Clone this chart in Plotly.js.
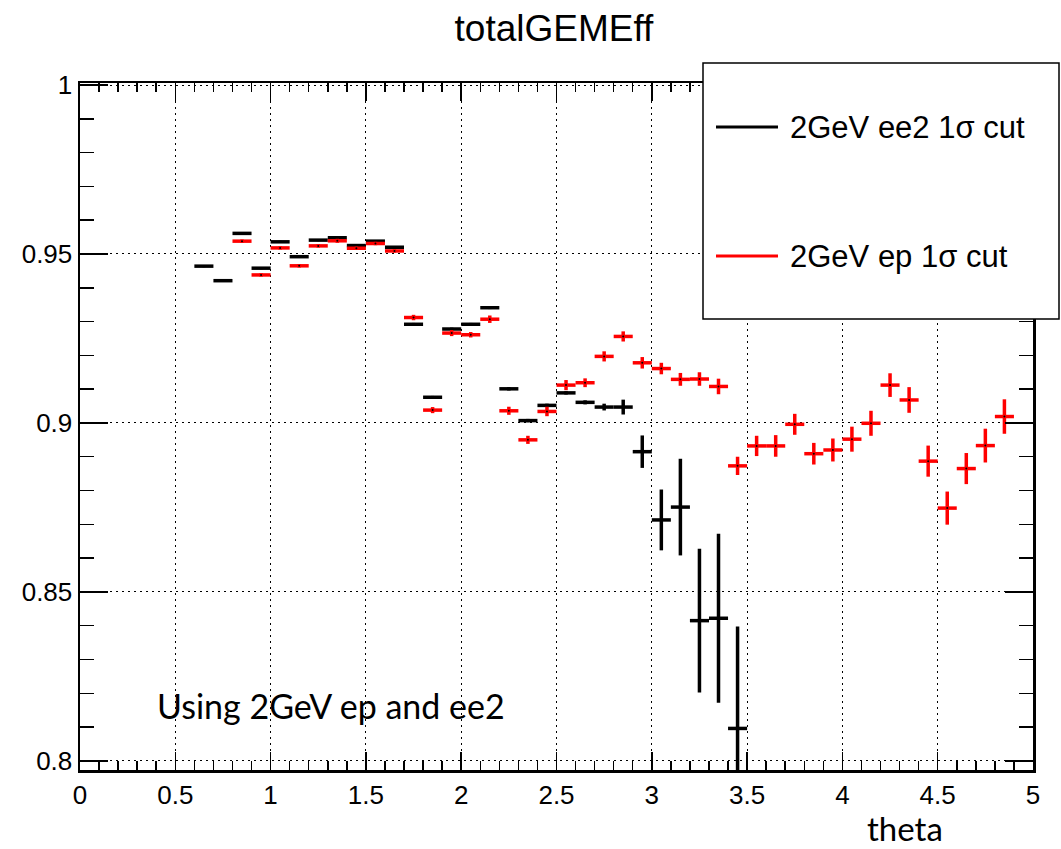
<!DOCTYPE html>
<html>
<head>
<meta charset="utf-8">
<script src="https://cdn.plot.ly/plotly-3.0.1.min.js"></script>
<style>
  html, body { margin: 0; padding: 0; background: #fff; }
  #chart { width: 1061px; height: 849px; }
</style>
</head>
<body>
<div id="chart"></div>
<script>
// Efficiency per theta bin (bin width 0.1), two electron samples
const binHalfWidth = 0.05;

const thetaEE2 = [0.65, 0.75, 0.85, 0.95, 1.05, 1.15, 1.25, 1.35, 1.45, 1.55,
                  1.65, 1.75, 1.85, 1.95, 2.05, 2.15, 2.25, 2.35, 2.45, 2.55,
                  2.65, 2.75, 2.85, 2.95, 3.05, 3.15, 3.25, 3.35, 3.45];
const effEE2 = [0.9464, 0.9421, 0.9561, 0.9458, 0.9536, 0.9492, 0.9541, 0.9548, 0.9525, 0.9538,
                0.9520, 0.9292, 0.9076, 0.9278, 0.9292, 0.9341, 0.9101, 0.9007, 0.9052, 0.9089,
                0.9061, 0.9047, 0.9047, 0.8915, 0.8713, 0.8751, 0.8415, 0.8422, 0.8096];
const errEE2 = [0.0003, 0.0003, 0.0003, 0.0003, 0.0003, 0.0003, 0.0003, 0.0003, 0.0003, 0.0003,
                0.0003, 0.0004, 0.0004, 0.0004, 0.0004, 0.0004, 0.0005, 0.0005, 0.0005, 0.0005,
                0.0006, 0.0010, 0.0022, 0.0048, 0.0090, 0.0143, 0.0213, 0.0250, 0.0302];

const thetaEP = [0.85, 0.95, 1.05, 1.15, 1.25, 1.35, 1.45, 1.55, 1.65, 1.75,
                 1.85, 1.95, 2.05, 2.15, 2.25, 2.35, 2.45, 2.55, 2.65, 2.75,
                 2.85, 2.95, 3.05, 3.15, 3.25, 3.35, 3.45, 3.55, 3.65, 3.75,
                 3.85, 3.95, 4.05, 4.15, 4.25, 4.35, 4.45, 4.55, 4.65, 4.75, 4.85];
const effEP = [0.9538, 0.9438, 0.9518, 0.9465, 0.9524, 0.9539, 0.9517, 0.9531, 0.9509, 0.9312,
               0.9038, 0.9266, 0.9261, 0.9307, 0.9036, 0.8950, 0.9034, 0.9112, 0.9119, 0.9197,
               0.9256, 0.9178, 0.9161, 0.9129, 0.9130, 0.9108, 0.8873, 0.8932, 0.8932, 0.8996,
               0.8909, 0.8920, 0.8952, 0.8999, 0.9112, 0.9068, 0.8887, 0.8748, 0.8865, 0.8933, 0.9019];
const errEP = [0.0005, 0.0005, 0.0005, 0.0005, 0.0005, 0.0006, 0.0005, 0.0005, 0.0005, 0.0008,
               0.0009, 0.0009, 0.0008, 0.0011, 0.0012, 0.0012, 0.0014, 0.0015, 0.0013, 0.0015,
               0.0015, 0.0017, 0.0017, 0.0019, 0.0020, 0.0023, 0.0027, 0.0030, 0.0032, 0.0031,
               0.0032, 0.0034, 0.0037, 0.0037, 0.0035, 0.0038, 0.0046, 0.0049, 0.0046, 0.0050, 0.0051];

const seriesNames = ['2GeV ee2 1\u03c3 cut', '2GeV ep 1\u03c3 cut'];
const seriesColors = ['#000000', '#ff0000'];

const SANS = 'Liberation Sans, Arial, Helvetica, sans-serif';
const NOTE = 'Lato, Carlito, Calibri, sans-serif';

function histTrace(x, y, e, color) {
  return {
    type: 'scatter',
    mode: 'markers',
    x: x,
    y: y,
    marker: { color: '#000', size: 2 },
    error_x: { type: 'constant', value: binHalfWidth, width: 0, thickness: 3.5, color: color },
    error_y: { type: 'data', array: e, symmetric: true, width: 0, thickness: 3.5, color: color },
    showlegend: false,
    hoverinfo: 'x+y'
  };
}

const traces = [
  histTrace(thetaEE2, effEE2, errEE2, seriesColors[0]),
  histTrace(thetaEP, effEP, errEP, seriesColors[1])
];

// plot frame: x 80..1033 px, y 83..770 px
const W = 1061, H = 849;
const L = 80, R = 28, T = 83, B = 79;
const PW = W - L - R, PH = H - T - B;
const px = v => (v - L) / PW;
const py = v => (H - B - v) / PH;

const axisCommon = {
  showline: true, linecolor: '#000', linewidth: 2.5, mirror: 'allticks',
  ticks: 'inside', tickcolor: '#000', tickwidth: 1.5,
  showgrid: true, gridcolor: '#000', gridwidth: 1, griddash: '2px,4px',
  zeroline: false,
  tickfont: { family: SANS, size: 26, color: '#000' }
};

const legendShapes = [
  { type: 'rect', xref: 'paper', yref: 'paper', x0: px(703), x1: px(1059), y0: py(319), y1: py(63),
    line: { color: '#000', width: 1.5 }, fillcolor: '#fff', layer: 'above' },
  { type: 'line', xref: 'paper', yref: 'paper', x0: px(716), x1: px(778), y0: py(127), y1: py(127),
    line: { color: seriesColors[0], width: 3 }, layer: 'above' },
  { type: 'line', xref: 'paper', yref: 'paper', x0: px(716), x1: px(778), y0: py(256), y1: py(256),
    line: { color: seriesColors[1], width: 3 }, layer: 'above' }
];

const layout = {
  width: W, height: H,
  margin: { l: L, r: R, t: T, b: B, pad: 0 },
  paper_bgcolor: '#fff', plot_bgcolor: '#fff',
  showlegend: false,
  title: {
    text: 'totalGEMEff',
    font: { family: SANS, size: 37, color: '#000' },
    x: 554 / W, xref: 'container', xanchor: 'center',
    y: 1 - 28 / H, yref: 'container', yanchor: 'middle'
  },
  xaxis: Object.assign({}, axisCommon, {
    range: [0, 5], tick0: 0, dtick: 0.5, ticklen: 18,
    minor: { dtick: 0.1, ticks: 'inside', ticklen: 9, tickcolor: '#000', tickwidth: 1.5, showgrid: false }
  }),
  yaxis: Object.assign({}, axisCommon, {
    range: [0.7973, 1.0006], tick0: 0.8, dtick: 0.05, ticklen: 28,
    minor: { dtick: 0.01, ticks: 'inside', ticklen: 14, tickcolor: '#000', tickwidth: 1.5, showgrid: false }
  }),
  shapes: legendShapes,
  annotations: [
    { text: seriesNames[0], xref: 'paper', yref: 'paper', x: px(788), y: py(127),
      xanchor: 'left', yanchor: 'middle', showarrow: false,
      font: { family: SANS, size: 31, color: '#000' } },
    { text: seriesNames[1], xref: 'paper', yref: 'paper', x: px(788), y: py(256),
      xanchor: 'left', yanchor: 'middle', showarrow: false,
      font: { family: SANS, size: 31, color: '#000' } },
    { text: 'Using 2GeV ep and ee2', xref: 'paper', yref: 'paper', x: px(155), y: py(705),
      xanchor: 'left', yanchor: 'middle', showarrow: false,
      font: { family: NOTE, size: 34, color: '#000' } },
    { text: 'theta', xref: 'paper', yref: 'paper', x: px(944), y: py(849),
      xanchor: 'right', yanchor: 'bottom', showarrow: false, borderpad: 0,
      font: { family: NOTE, size: 33, color: '#000' } }
  ]
};

Plotly.newPlot('chart', traces, layout, { staticPlot: true, displayModeBar: false });
</script>
</body>
</html>
